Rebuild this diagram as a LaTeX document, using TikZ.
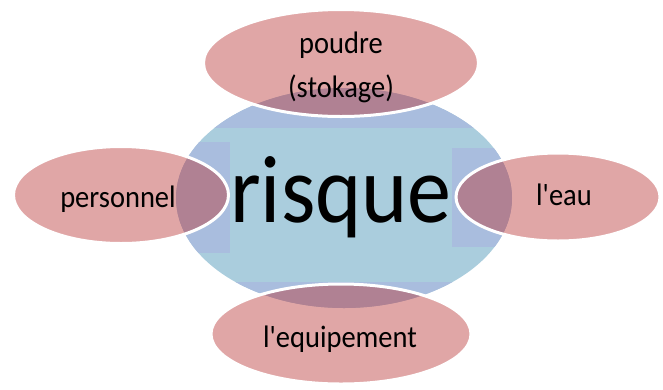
\documentclass[tikz,border=0pt]{standalone}
\usepackage{fontspec}
\setmainfont{Carlito}
\usetikzlibrary{shapes.geometric}
\definecolor{coreteal}{RGB}{170,205,221}
\definecolor{coreperi}{RGB}{169,189,222}
\definecolor{petal}{RGB}{185,53,53}
\newcommand{\tallt}[1]{\scalebox{1}[1.09]{#1}}
\tikzset{
  petalshape/.style={ellipse, inner sep=0pt, fill=petal, fill opacity=0.44,
    draw=white, draw opacity=1, line width=3pt, text opacity=1},
  label/.style={anchor=base, inner sep=0pt, font=\fontsize{28.5}{44}\selectfont}
}
\begin{document}
\begin{tikzpicture}[x=1pt,y=-1pt]
\useasboundingbox (0,0) rectangle (663,389);

% central ellipse
\node[ellipse, inner sep=0pt, fill=coreteal, minimum width=336pt, minimum height=220pt] (core) at (344,198) {};
\begin{scope}
  \clip (344,198) ellipse [x radius=168, y radius=110];
  \fill[coreperi] (170,80) rectangle (520,128);
  \fill[coreperi] (170,282) rectangle (520,320);
  \fill[coreperi] (170,142) rectangle (230,253);
  \fill[coreperi] (452,148) rectangle (520,247);
\end{scope}
\node[anchor=base, inner sep=0pt, font=\fontsize{88}{88}\selectfont] (risk) at (341,222.5) {\tallt{risque}};

% surrounding petals
\node[petalshape, minimum width=275pt, minimum height=107pt] (top) at (341,63) {};
\node[petalshape, minimum width=215pt, minimum height=97pt] (left) at (121,195) {};
\node[petalshape, minimum width=204pt, minimum height=88pt] (right) at (558,197) {};
\node[petalshape, minimum width=260pt, minimum height=100pt] (bottom) at (341,334) {};

\node[label] (toplabA) at (341,53) {\tallt{poudre}};
\node[label] (toplabB) at (341,97) {\tallt{(stokage)}};
\node[label] (leftlab) at (118,207) {\tallt{personnel}};
\node[label] (rightlab) at (564,205) {\tallt{l\textquotesingle eau}};
\node[label] (bottomlab) at (340,347) {\tallt{l\textquotesingle equipement}};
\end{tikzpicture}
\end{document}
